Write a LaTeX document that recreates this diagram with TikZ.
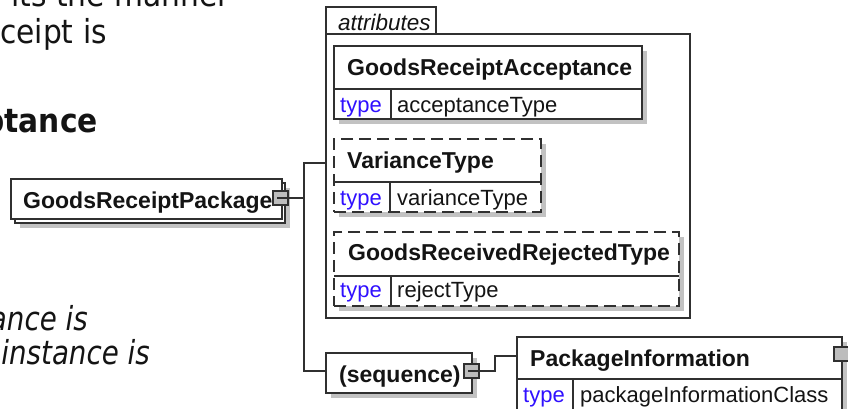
\documentclass[tikz,border=0pt]{standalone}
\usepackage{fontspec}
\setmainfont{Liberation Sans}
\newfontfamily\docfont[FakeStretch=0.9]{DejaVu Sans}
\newfontfamily\docitfont[FakeStretch=0.84]{DejaVu Sans Oblique}
\usetikzlibrary{shadows,calc}
\definecolor{edge}{HTML}{303030}
\definecolor{shade}{HTML}{C2C2C2}
\definecolor{typeblue}{HTML}{3010FF}
\definecolor{txt}{HTML}{141414}
\definecolor{sqfill}{HTML}{BDBDBD}
\begin{document}
\begin{tikzpicture}[x=1pt,y=-1pt,
  box/.style={draw=edge, line width=1.4pt, fill=white, rectangle, inner sep=0pt, outer sep=0pt, anchor=north west},
  dashbox/.style={box, dash pattern=on 12pt off 6pt},
  shadowed/.style={drop shadow={shadow xshift=5pt, shadow yshift=-5pt, fill=shade, opacity=1}},
  rowline/.style={draw=edge, line width=1.4pt},
  conn/.style={draw=edge, line width=1.4pt},
  title/.style={font=\fontsize{23}{26}\selectfont\bfseries, text=txt, anchor=base west, inner sep=0pt},
  val/.style={font=\fontsize{22}{25}\selectfont, text=txt, anchor=base west, inner sep=0pt},
  typelbl/.style={val, text=typeblue},
  grp/.style={font=\fontsize{22.5}{25}\selectfont\itshape, text=txt, anchor=base west, inner sep=0pt},
  doc/.style={font=\docfont\fontsize{33}{38}\selectfont, text=txt, anchor=base east, inner sep=0pt},
  docit/.style={doc, font=\docitfont\fontsize{33}{38}\selectfont},
  sq/.style={draw=edge, fill=sqfill, line width=1.2pt, rectangle, inner sep=0pt, outer sep=0pt, minimum width=15pt, minimum height=14pt, anchor=north west}]
\useasboundingbox (0,0) rectangle (848,408);
\clip (0,0) rectangle (848,408);
\fill[white] (0,0) rectangle (848,408);

% background document text (cut off at the left)
\node[doc] (d1) at (230,6) {its the manner};
\node[doc] (d2) at (107,43) {ceipt is};
\node[doc, font=\docfont\fontsize{33}{38}\selectfont\bfseries] (d3) at (98,132) {ptance};
\node[docit] (d4) at (88,330) {ance is};
\node[docit] (d5) at (150,364) {instance is};

% GoodsReceiptPackage (multiple occurrence)
\node[box, shadowed, minimum width=270pt, minimum height=40pt] (grpback) at (15,183) {};
\node[box, minimum width=271pt, minimum height=40pt] (grp) at (11,179) {};
\node[title] (grptxt) at (23,208) {GoodsReceiptPackage};
\node[sq] (grpsq) at (273,191) {};
\draw[conn] ([xshift=4pt]grpsq.west) -- (grpsq.east);

% attributes group
\node[box, minimum width=364pt, minimum height=284pt] (attr) at (326,34) {};
\node[box, minimum width=110pt, minimum height=27pt] (attrtab) at (326,7) {};
\node[grp] (attrtxt) at (338,30) {attributes};

% GoodsReceiptAcceptance
\node[box, shadowed, minimum width=308pt, minimum height=73pt] (gra) at (334,46) {};
\draw[rowline] ($(gra.north west)+(0,43)$) coordinate (graL) -- (graL -| gra.east);
\draw[rowline] ($(gra.north west)+(57,43)$) -- ($(gra.south west)+(57,0)$);
\node[title] (gratxt) at (347,75) {GoodsReceiptAcceptance};
\node[typelbl] (gratype) at (340,112) {type};
\node[val] (graval) at (397,112) {acceptanceType};

% VarianceType
\node[dashbox, shadowed, minimum width=207pt, minimum height=73pt] (vt) at (334,139) {};
\draw[rowline] ($(vt.north west)+(0,43)$) coordinate (vtL) -- (vtL -| vt.east);
\draw[rowline] ($(vt.north west)+(56,43)$) -- ($(vt.south west)+(56,0)$);
\node[title] (vttxt) at (347,168) {VarianceType};
\node[typelbl] (vttype) at (340,205) {type};
\node[val] (vtval) at (397,205) {varianceType};

% GoodsReceivedRejectedType
\node[dashbox, shadowed, minimum width=345pt, minimum height=74pt] (grrt) at (334,232) {};
\draw[rowline] ($(grrt.north west)+(0,44)$) coordinate (grrtL) -- (grrtL -| grrt.east);
\draw[rowline] ($(grrt.north west)+(57,44)$) -- ($(grrt.south west)+(57,0)$);
\node[title] (grrttxt) at (348,260) {GoodsReceivedRejectedType};
\node[typelbl] (grrttype) at (340,297) {type};
\node[val] (grrtval) at (397,297) {rejectType};

% (sequence)
\node[box, shadowed, minimum width=146pt, minimum height=40pt] (seq) at (326,353) {};
\node[title] (seqtxt) at (339,382) {(sequence)};
\node[sq] (seqsq) at (464,364) {};
\draw[conn] ([xshift=4pt]seqsq.west) -- (seqsq.east);

% PackageInformation
\node[box, shadowed, minimum width=325pt, minimum height=90pt] (pi) at (517,337) {};
\draw[rowline] ($(pi.north west)+(0,42)$) coordinate (piL) -- (piL -| pi.east);
\draw[rowline] ($(pi.north west)+(56,42)$) -- ($(pi.south west)+(56,0)$);
\node[title] (pitxt) at (530,366) {PackageInformation};
\node[typelbl] (pitype) at (523,402) {type};
\node[val] (pival) at (580,402) {packageInformationClass};
\node[sq] (pisq) at (834,347) {};

% connectors
\coordinate (trunk) at (304,163);
\coordinate (seqbend) at (495,372);
\draw[conn] (grpsq.east) -- (grpsq.east -| trunk);
\draw[conn] (attr.west |- trunk) -- (trunk) -- (trunk |- seqsq.east) -- (seq.west |- seqsq.east);
\draw[conn] (seqsq.east) -- (seqsq.east -| seqbend) |- ($(pi.north west)+(0,19)$);
\end{tikzpicture}
\end{document}
